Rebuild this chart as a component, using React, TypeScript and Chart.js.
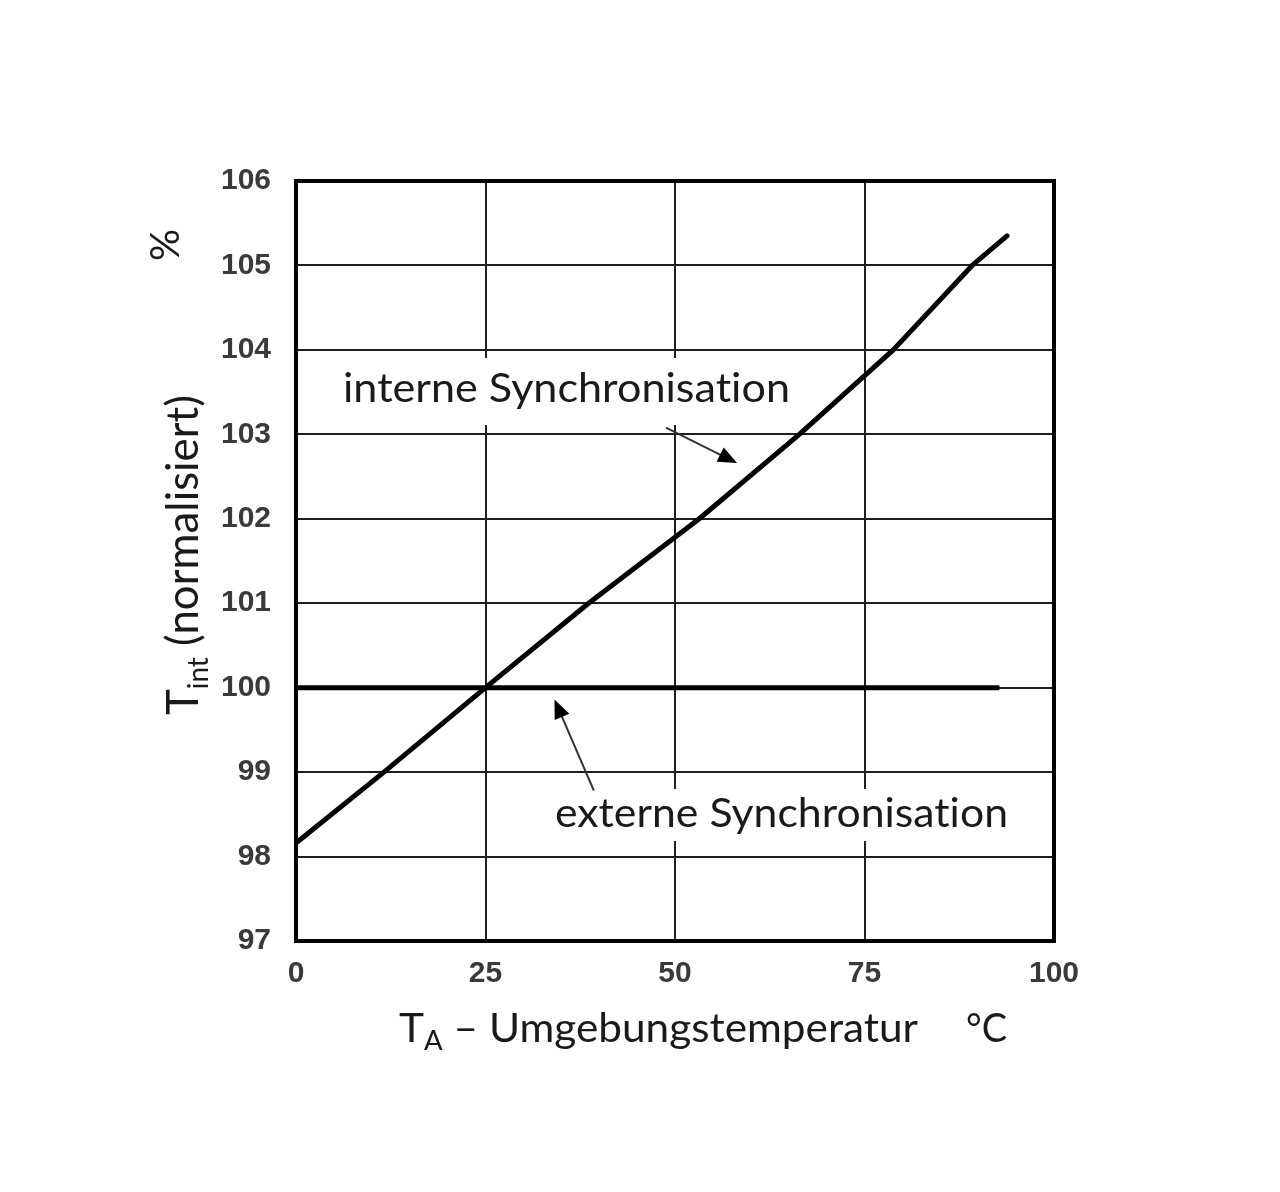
import React, { useEffect, useRef } from "react";
import { Chart, registerables } from "chart.js";

Chart.register(...registerables);

// ---- data ----
const interneX = [0, 11.6, 25, 38.6, 53.2, 66.4, 78.8, 89.2, 93.8];
const interneY = [98.16, 99, 100, 101, 102, 103, 104, 105, 105.35];
const externeX = [0, 92.8];
const externeY = [100, 100];
const xTickValues = [0, 25, 50, 75, 100];
const yTickValues = [97, 98, 99, 100, 101, 102, 103, 104, 105, 106];
const seriesLabels = ["interne Synchronisation", "externe Synchronisation"];
// arrows: [fromX, fromY, toX, toY] in data units
const interneArrow = [48.8, 103.08, 58.2, 102.66];
const externeArrow = [39.3, 98.78, 34.1, 99.86];

const FONT = "Lato, 'Open Sans', sans-serif";
const TEXT = "#1a1a1a";

function drawRich(ctx: any, parts: any[], x: number, y: number, width: number, rotate = false) {
  ctx.save();
  try {
    ctx.letterSpacing = "0.01px";
  } catch (e) {}
  let total = 0;
  const ws: number[] = [];
  for (const p of parts) {
    ctx.font = p.font;
    const w = ctx.measureText(p.text).width;
    ws.push(w);
    total += w;
  }
  ctx.translate(x, y);
  if (rotate) ctx.rotate(-Math.PI / 2);
  ctx.scale(width / total, 1);
  ctx.textBaseline = "alphabetic";
  ctx.textAlign = "left";
  ctx.fillStyle = TEXT;
  let cx = 0;
  parts.forEach((p, i) => {
    ctx.font = p.font;
    ctx.fillText(p.text, cx, p.dy || 0);
    cx += ws[i];
  });
  ctx.restore();
}

function drawArrow(ctx: any, x1: number, y1: number, x2: number, y2: number) {
  const ang = Math.atan2(y2 - y1, x2 - x1);
  const headLen = 19;
  const headW = 8;
  ctx.save();
  ctx.strokeStyle = "#333";
  ctx.fillStyle = "#000";
  ctx.lineWidth = 2;
  ctx.beginPath();
  ctx.moveTo(x1, y1);
  ctx.lineTo(x2 - Math.cos(ang) * headLen * 0.8, y2 - Math.sin(ang) * headLen * 0.8);
  ctx.stroke();
  const bx = x2 - Math.cos(ang) * headLen;
  const by = y2 - Math.sin(ang) * headLen;
  ctx.beginPath();
  ctx.moveTo(x2, y2);
  ctx.lineTo(bx + Math.sin(ang) * headW, by - Math.cos(ang) * headW);
  ctx.lineTo(bx - Math.sin(ang) * headW, by + Math.cos(ang) * headW);
  ctx.closePath();
  ctx.fill();
  ctx.restore();
}

const annotPlugin = {
  id: "annot",
  beforeDraw(chart: any) {
    const ctx = chart.ctx;
    ctx.save();
    ctx.fillStyle = "#fff";
    ctx.fillRect(0, 0, chart.width, chart.height);
    ctx.restore();
  },
  beforeDatasetsDraw(chart: any) {
    const ctx = chart.ctx;
    const a = chart.chartArea;
    ctx.save();
    ctx.fillStyle = "#fff";
    ctx.fillRect(333, 358, 470, 67);
    ctx.fillRect(545, 789, 475, 52);
    ctx.restore();
    drawRich(ctx, [{ text: seriesLabels[0], font: `40px ${FONT}` }], 343, 402, 447);
    drawRich(ctx, [{ text: seriesLabels[1], font: `40px ${FONT}` }], 555, 827, 453);
    ctx.save();
    ctx.strokeStyle = "#000";
    ctx.lineWidth = 4;
    ctx.strokeRect(a.left, a.top, a.right - a.left, a.bottom - a.top);
    ctx.restore();
  },
  afterDatasetsDraw(chart: any) {
    const ctx = chart.ctx;
    const xs = chart.scales.x;
    const ys = chart.scales.y;
    for (const ar of [interneArrow, externeArrow]) {
      drawArrow(
        ctx,
        xs.getPixelForValue(ar[0]),
        ys.getPixelForValue(ar[1]),
        xs.getPixelForValue(ar[2]),
        ys.getPixelForValue(ar[3])
      );
    }
    // y axis title
    drawRich(
      ctx,
      [
        { text: "T", font: `44px ${FONT}` },
        { text: "int", font: `28px ${FONT}`, dy: 10 },
        { text: " (normalisiert)", font: `44px ${FONT}` },
      ],
      198,
      715,
      320,
      true
    );
    ctx.save();
    ctx.translate(166, 245);
    ctx.rotate(-Math.PI / 2);
    ctx.font = `40px ${FONT}`;
    ctx.fillStyle = TEXT;
    ctx.textAlign = "center";
    ctx.textBaseline = "middle";
    ctx.fillText("%", 0, 0);
    ctx.restore();
    // x axis title
    drawRich(
      ctx,
      [
        { text: "T", font: `40px ${FONT}` },
        { text: "A", font: `26px ${FONT}`, dy: 8 },
        { text: " \u2013 Umgebungstemperatur", font: `40px ${FONT}` },
      ],
      399,
      1042,
      519
    );
    drawRich(ctx, [{ text: "\u00B0C", font: `40px ${FONT}` }], 966, 1042, 41);
  },
};

export default function App() {
  const ref = useRef<HTMLCanvasElement>(null);
  useEffect(() => {
    if (!ref.current) return;
    const tickFont = { family: "'Liberation Sans', Arial, sans-serif", size: 30, weight: "bold" as const };
    const chart = new Chart(ref.current, {
      type: "line",
      data: {
        datasets: [
          {
            label: seriesLabels[0],
            data: interneX.map((x, i) => ({ x, y: interneY[i] })),
            borderColor: "#000",
            borderWidth: 5,
            pointRadius: 0,
            tension: 0,
            borderCapStyle: "round",
            borderJoinStyle: "round",
          },
          {
            label: seriesLabels[1],
            data: externeX.map((x, i) => ({ x, y: externeY[i] })),
            borderColor: "#000",
            borderWidth: 5,
            pointRadius: 0,
            tension: 0,
          },
        ],
      },
      options: {
        responsive: false,
        animation: false,
        layout: { padding: { left: 0, top: 181, right: 226, bottom: 191 } },
        plugins: { legend: { display: false }, tooltip: { enabled: false } },
        scales: {
          x: {
            type: "linear",
            min: 0,
            max: 100,
            afterFit: (s: any) => {
              s.height = 60;
            },
            afterBuildTicks: (s: any) => {
              s.ticks = xTickValues.map((v) => ({ value: v }));
            },
            grid: { color: "#1f1f1f", lineWidth: 2, drawTicks: false },
            border: { display: false },
            ticks: { color: "#3a3a3a", font: tickFont, padding: 15, maxRotation: 0 },
          },
          y: {
            type: "linear",
            min: 97,
            max: 106,
            afterFit: (s: any) => {
              s.width = 296;
            },
            afterBuildTicks: (s: any) => {
              s.ticks = yTickValues.map((v) => ({ value: v }));
            },
            grid: { color: "#1f1f1f", lineWidth: 2, drawTicks: false },
            border: { display: false },
            ticks: { color: "#3a3a3a", font: tickFont, padding: 25 },
          },
        },
      },
      plugins: [annotPlugin],
    } as any);
    return () => chart.destroy();
  }, []);
  return (
    <div style={{ position: "absolute", left: 0, top: 0, width: 1280, height: 1192, background: "#fff" }}>
      <canvas ref={ref} width={1280} height={1192} style={{ display: "block" }} />
    </div>
  );
}
